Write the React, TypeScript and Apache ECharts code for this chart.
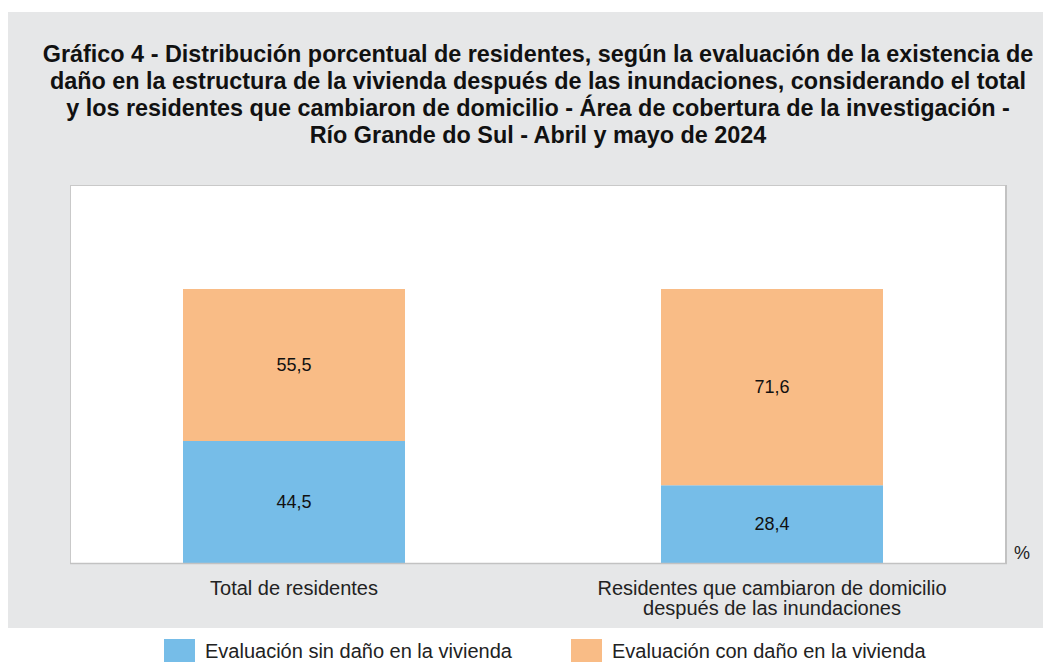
import React, { useEffect, useRef } from "react";
import * as echarts from "echarts";

const categories = ["Total de residentes", "Residentes que cambiaron de domicilio\ndespués de las inundaciones"];
const seriesNames = ["Evaluación sin daño en la vivienda", "Evaluación con daño en la vivienda"];
const sinDano = [44.5, 28.4];
const conDano = [55.5, 71.6];
const colors = ["#76bde8", "#f9bc86"];
const titleText =
  "Gráfico 4 - Distribución porcentual de residentes, según la evaluación de la existencia de\n" +
  "daño en la estructura de la vivienda después de las inundaciones, considerando el total\n" +
  "y los residentes que cambiaron de domicilio - Área de cobertura de la investigación -\n" +
  "Río Grande do Sul - Abril y mayo de 2024";

const FONT = "'Liberation Sans', Arial, Helvetica, sans-serif";

export default function App() {
  const ref = useRef<HTMLDivElement>(null);
  useEffect(() => {
    if (!ref.current) return;
    const chart = echarts.init(ref.current, null, { renderer: "svg" });
    const fmt = (p: any) => String(p.value).replace(".", ",");
    const legendBase = {
      top: 631,
      itemWidth: 31,
      itemHeight: 23,
      icon: "rect",
      padding: 0,
      textStyle: { fontSize: 20, color: "#222", padding: [0, 0, 0, 5], fontFamily: FONT, lineHeight: 23 },
    };
    chart.setOption({
      animation: false,
      textStyle: { fontFamily: FONT },
      graphic: [
        { type: "rect", z: -10, silent: true, shape: { x: 0, y: 4, width: 1043, height: 616 }, style: { fill: "#e6e7e8" } },
        { type: "rect", z: -9, silent: true, shape: { x: 62, y: 177, width: 936, height: 378 }, style: { fill: "#ffffff" } },
        { type: "line", z: 5, silent: true, shape: { x1: 62, y1: 177.5, x2: 998, y2: 177.5 }, style: { stroke: "#c9c9c9", lineWidth: 1 } },
        { type: "line", z: 5, silent: true, shape: { x1: 62.5, y1: 177, x2: 62.5, y2: 555 }, style: { stroke: "#c9c9c9", lineWidth: 1 } },
        { type: "line", z: 5, silent: true, shape: { x1: 998, y1: 177, x2: 998, y2: 556 }, style: { stroke: "#c2c2c2", lineWidth: 2 } },
        { type: "line", z: 5, silent: true, shape: { x1: 62, y1: 555.5, x2: 999, y2: 555.5 }, style: { stroke: "#c2c2c2", lineWidth: 1.5 } },
        { type: "text", z: 5, silent: true, x: 1006, y: 536, style: { text: "%", fontSize: 18, fill: "#222", fontFamily: FONT } },
      ],
      title: {
        text: titleText,
        left: 530,
        top: 32,
        textAlign: "center",
        padding: 0,
        textStyle: { fontSize: 23.4, fontWeight: "bold", lineHeight: 27, color: "#111", fontFamily: FONT },
      },
      legend: [
        { ...legendBase, data: [seriesNames[0]], left: 156 },
        { ...legendBase, data: [seriesNames[1]], left: 563 },
      ],
      grid: { left: 47, top: 177, width: 956, height: 378, containLabel: false },
      xAxis: {
        type: "category",
        data: categories,
        axisLine: { show: false },
        axisTick: { show: false },
        axisLabel: { fontSize: 20, color: "#222", margin: 15, lineHeight: 20, fontFamily: FONT },
      },
      yAxis: { type: "value", min: 0, max: 138, show: false },
      series: [
        {
          name: seriesNames[0],
          type: "bar",
          stack: "total",
          data: sinDano,
          barWidth: 222,
          itemStyle: { color: colors[0] },
          label: { show: true, position: "inside", fontSize: 18, color: "#111", formatter: fmt, fontFamily: FONT },
        },
        {
          name: seriesNames[1],
          type: "bar",
          stack: "total",
          data: conDano,
          barWidth: 222,
          itemStyle: { color: colors[1] },
          label: { show: true, position: "inside", fontSize: 18, color: "#111", formatter: fmt, fontFamily: FONT },
        },
      ],
    });
    return () => chart.dispose();
  }, []);
  return <div ref={ref} style={{ width: 1043, height: 655 }} />;
}
